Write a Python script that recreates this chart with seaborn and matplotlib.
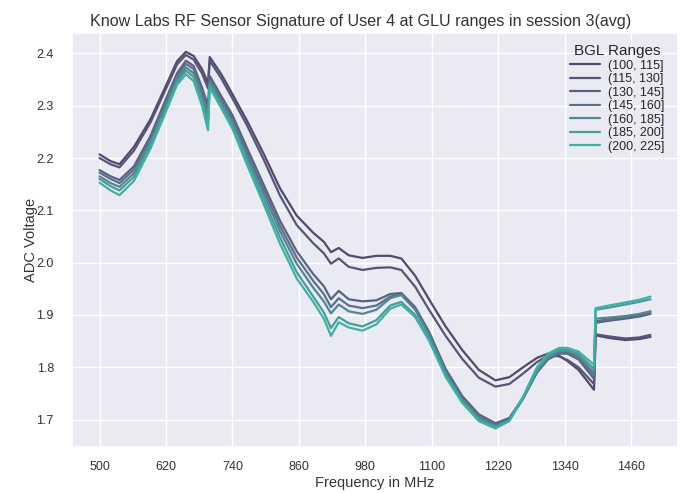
import matplotlib
matplotlib.use("Agg")
import matplotlib.pyplot as plt
import seaborn as sns
import pandas as pd

# ---- data ----
freq = [500, 520, 536, 562, 592, 622, 640, 656, 670, 685, 696, 699, 720, 740,
        766, 796, 826, 856, 886, 905, 918, 932, 950, 975, 1000, 1025, 1045,
        1070, 1095, 1125, 1155, 1185, 1215, 1240, 1265, 1290, 1310, 1330, 1345,
        1365, 1393, 1396, 1420, 1450, 1475, 1495]

bgl_ranges = ["(100, 115]", "(115, 130]", "(130, 145]", "(145, 160]",
              "(160, 185]", "(185, 200]", "(200, 225]"]

v_100_115 = [2.207, 2.194, 2.188, 2.221, 2.274, 2.343, 2.385, 2.403, 2.395, 2.370,
             2.343, 2.393, 2.360, 2.322, 2.272, 2.209, 2.142, 2.090, 2.057, 2.040,
             2.020, 2.028, 2.014, 2.009, 2.013, 2.013, 2.008, 1.975, 1.930, 1.878,
             1.833, 1.795, 1.775, 1.781, 1.800, 1.818, 1.826, 1.822, 1.812, 1.795,
             1.757, 1.861, 1.856, 1.852, 1.854, 1.858]
v_115_130 = [2.200, 2.188, 2.182, 2.214, 2.268, 2.337, 2.379, 2.397, 2.388, 2.362,
             2.333, 2.386, 2.352, 2.314, 2.263, 2.198, 2.128, 2.072, 2.037, 2.018,
             1.998, 2.008, 1.992, 1.986, 1.990, 1.991, 1.986, 1.954, 1.910, 1.860,
             1.816, 1.780, 1.763, 1.768, 1.788, 1.810, 1.822, 1.821, 1.814, 1.800,
             1.768, 1.863, 1.859, 1.855, 1.857, 1.862]
v_130_145 = [2.177, 2.165, 2.158, 2.184, 2.242, 2.318, 2.362, 2.386, 2.376, 2.335,
             2.300, 2.357, 2.318, 2.282, 2.220, 2.150, 2.080, 2.022, 1.978, 1.955,
             1.930, 1.946, 1.930, 1.926, 1.928, 1.940, 1.942, 1.915, 1.868, 1.797,
             1.745, 1.710, 1.693, 1.703, 1.742, 1.790, 1.815, 1.826, 1.826, 1.815,
             1.778, 1.885, 1.889, 1.893, 1.897, 1.902]
v_145_160 = [2.172, 2.160, 2.152, 2.178, 2.236, 2.312, 2.356, 2.380, 2.370, 2.327,
             2.290, 2.350, 2.312, 2.275, 2.212, 2.141, 2.070, 2.010, 1.965, 1.940,
             1.915, 1.932, 1.918, 1.913, 1.918, 1.935, 1.940, 1.912, 1.865, 1.793,
             1.741, 1.706, 1.690, 1.700, 1.740, 1.790, 1.816, 1.828, 1.828, 1.818,
             1.785, 1.888, 1.892, 1.896, 1.900, 1.905]
v_160_185 = [2.165, 2.152, 2.145, 2.171, 2.230, 2.306, 2.350, 2.373, 2.362, 2.318,
             2.280, 2.345, 2.306, 2.268, 2.204, 2.132, 2.060, 1.998, 1.952, 1.926,
             1.903, 1.920, 1.907, 1.902, 1.910, 1.932, 1.938, 1.910, 1.862, 1.790,
             1.738, 1.703, 1.688, 1.699, 1.740, 1.792, 1.818, 1.831, 1.831, 1.822,
             1.790, 1.893, 1.895, 1.898, 1.902, 1.907]
v_185_200 = [2.160, 2.146, 2.138, 2.164, 2.225, 2.300, 2.345, 2.367, 2.355, 2.310,
             2.268, 2.340, 2.300, 2.262, 2.196, 2.122, 2.048, 1.982, 1.935, 1.905,
             1.875, 1.896, 1.884, 1.878, 1.890, 1.918, 1.925, 1.900, 1.855, 1.785,
             1.735, 1.700, 1.686, 1.698, 1.742, 1.796, 1.822, 1.834, 1.834, 1.826,
             1.797, 1.910, 1.914, 1.920, 1.925, 1.930]
v_200_225 = [2.153, 2.138, 2.129, 2.156, 2.218, 2.294, 2.340, 2.360, 2.347, 2.300,
             2.253, 2.335, 2.295, 2.256, 2.188, 2.113, 2.036, 1.970, 1.925, 1.893,
             1.860, 1.886, 1.876, 1.870, 1.882, 1.912, 1.920, 1.896, 1.851, 1.782,
             1.732, 1.697, 1.683, 1.697, 1.744, 1.800, 1.826, 1.837, 1.837, 1.830,
             1.805, 1.913, 1.918, 1.924, 1.929, 1.935]

series = [v_100_115, v_115_130, v_130_145, v_145_160, v_160_185, v_185_200, v_200_225]

xticks = [500, 620, 740, 860, 980, 1100, 1220, 1340, 1460]

title = "Know Labs RF Sensor Signature of User 4 at GLU ranges in session 3(avg)"

# ---- build long table ----
rows = []
for label, vals in zip(bgl_ranges, series):
    for f, v in zip(freq, vals):
        rows.append({"Frequency in MHz": f, "ADC Voltage": v, "BGL Ranges": label})
df = pd.DataFrame(rows)

sns.set_theme(style="darkgrid")
plt.rcParams["font.family"] = ["Liberation Sans", "DejaVu Sans"]

palette = sns.blend_palette(["#54486f", "#5b6f8a", "#3cb3a2"], 7)

fig = plt.figure(figsize=(6.83, 4.93), dpi=100)
ax = fig.add_axes([0.1054, 0.0927, 0.8873, 0.8404])

sns.lineplot(data=df, x="Frequency in MHz", y="ADC Voltage", hue="BGL Ranges",
             hue_order=bgl_ranges, palette=palette, linewidth=1.6, ax=ax,
             sort=False)

ax.set_xticks(xticks)
ax.tick_params(axis="x", labelsize=9, pad=4, colors="#333333")
ax.tick_params(axis="y", labelsize=9, pad=7, colors="#333333")
ax.set_xlabel("Frequency in MHz", fontsize=10.5, color="#333333", labelpad=2)
ax.set_ylabel("ADC Voltage", fontsize=10.5, color="#333333", labelpad=-1)
ax.set_title(title, fontsize=11.6, color="#333333", pad=5, x=0.477)

leg = ax.legend(title="BGL Ranges", loc="upper right", frameon=False,
                fontsize=9, title_fontsize=11, labelspacing=0.12,
                handlelength=2.4, handletextpad=0.6,
                bbox_to_anchor=(0.985, 0.985), borderaxespad=0.0)

fig.savefig("out.png", dpi=100)
